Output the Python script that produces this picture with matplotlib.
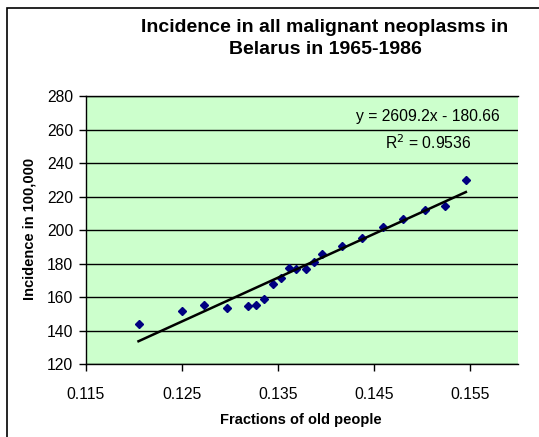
import numpy as np
import matplotlib
matplotlib.use("Agg")
import matplotlib.pyplot as plt
from matplotlib.patches import Rectangle

plt.rcParams['font.family'] = ['Liberation Sans', 'DejaVu Sans']

# fraction of old people vs incidence per 100,000
fractions = [0.1205, 0.1250, 0.1273, 0.1297, 0.1319, 0.1327, 0.1336, 0.1345,
             0.1353, 0.1362, 0.1369, 0.1379, 0.1388, 0.1396, 0.1417, 0.1438,
             0.1460, 0.1481, 0.1503, 0.1524, 0.1546]
incidence = [144.2, 151.8, 155.5, 153.6, 155.0, 155.5, 158.7, 168.1,
             171.3, 177.6, 176.8, 176.8, 180.8, 185.8, 190.3, 195.3,
             201.7, 206.6, 212.2, 214.6, 229.7]

slope = 2609.2
intercept = -180.66
r_squared = 0.9536

x_ticks = [0.115, 0.125, 0.135, 0.145, 0.155]
y_ticks = [120, 140, 160, 180, 200, 220, 240, 260, 280]

W, H = 539, 437
fig = plt.figure(figsize=(W / 100, H / 100), dpi=100)

# outer chart border (cut off at right/bottom like the reference)
fig.patches.append(Rectangle((7 / W, -0.1), 1.2, (H - 8) / H + 0.1,
                             transform=fig.transFigure, fill=False,
                             edgecolor='black', lw=1.2))

left, right, top, bottom = 85.7, 517.7, 96, 364.3
ax = fig.add_axes([left / W, 1 - bottom / H, (right - left) / W, (bottom - top) / H])
ax.set_facecolor('#CCFFCC')

ax.plot(fractions, incidence, linestyle='none', marker='D', ms=4.3,
        color='#000080', zorder=3)

xs = np.array([min(fractions), max(fractions)])
ax.plot(xs, slope * xs + intercept, color='black', lw=1.8, zorder=4)

ax.set_xlim(0.115, 0.160)
ax.set_ylim(120, 280)
ax.set_xticks(x_ticks)
ax.set_xticklabels([f'{t:.3f}' for t in x_ticks])
ax.set_yticks(y_ticks)
ax.yaxis.grid(True, color='black', lw=1)
ax.set_axisbelow(True)

for s in ['left', 'bottom', 'top']:
    ax.spines[s].set_color('black')
    ax.spines[s].set_linewidth(1)
ax.spines['right'].set_visible(False)
ax.tick_params(direction='out', length=5, width=1, labelsize=11.3)
ax.tick_params(axis='x', pad=11)
ax.tick_params(axis='y', pad=4)

eq = f'y = {slope}x - {abs(intercept)}'
fig.text(428 / W, 1 - 117 / H, eq, ha='center', va='center', fontsize=11.3)
fig.text(428 / W, 1 - 143 / H, f'R$^2$ = {r_squared}', ha='center', va='center',
         fontsize=11.3)

fig.text(325 / W, 1 - 28 / H, 'Incidence in all malignant neoplasms in',
         ha='center', va='center', fontsize=14, fontweight='bold')
fig.text(325 / W, 1 - 49 / H, 'Belarus in 1965-1986',
         ha='center', va='center', fontsize=14, fontweight='bold')

fig.text(301 / W, 1 - 420 / H, 'Fractions of old people', ha='center', va='center',
         fontsize=10.5, fontweight='bold')
fig.text(30 / W, 1 - 229 / H, 'Incidence in 100,000', ha='center', va='center',
         rotation=90, fontsize=10.5, fontweight='bold')

fig.savefig('out.png', dpi=100)
